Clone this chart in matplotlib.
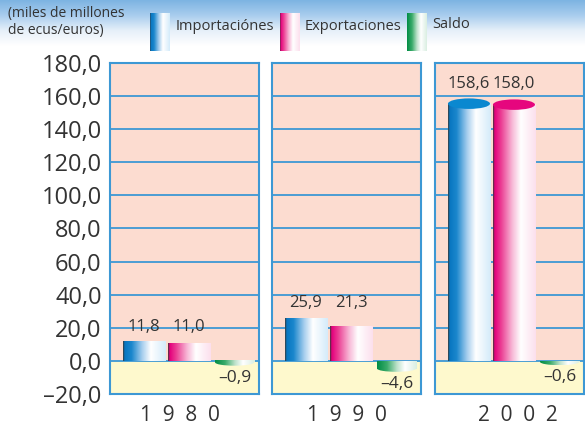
import numpy as np
import matplotlib
matplotlib.use("Agg")
import matplotlib.pyplot as plt
from matplotlib.colors import LinearSegmentedColormap
from matplotlib.patches import Ellipse

plt.rcParams['font.family'] = ['Open Sans', 'DejaVu Sans']

years = ['1980', '1990', '2002']
importaciones = [11.8, 25.9, 158.6]
exportaciones = [11.0, 21.3, 158.0]
saldo = [-0.9, -4.6, -0.6]
series_names = ['Importaciónes', 'Exportaciones', 'Saldo']
y_ticks = [-20, 0, 20, 40, 60, 80, 100, 120, 140, 160, 180]
unit_label = '(miles de millones\nde ecus/euros)'

TEXT = '#333333'
SALMON = '#fcdcd0'
YELLOW = '#fef9cd'
GRID = '#3d98d4'

cmaps = [
    LinearSegmentedColormap.from_list('imp', [(0, '#3a3a3a'), (0.04, '#0876c0'), (0.2, '#1b87cd'),
                                             (0.45, '#a8cfee'), (0.65, '#ffffff'), (1, '#d4ebfa')]),
    LinearSegmentedColormap.from_list('exp', [(0, '#3a3a3a'), (0.04, '#e4007c'), (0.2, '#ec4396'),
                                             (0.45, '#f7b9d7'), (0.65, '#ffffff'), (1, '#fcdfed')]),
    LinearSegmentedColormap.from_list('sal', [(0, '#008c45'), (0.25, '#3aab6a'), (0.5, '#bde2ca'),
                                             (0.7, '#ffffff'), (1, '#d9eee1')]),
]
top_colors = ['#0a88d0', '#e6067e', '#00964b']
grad = np.linspace(0, 1, 256).reshape(1, -1)


def fmt(v):
    return '{:.1f}'.format(v).replace('.', ',').replace('-', '–')


fig = plt.figure(figsize=(5.85, 4.30), dpi=100)

# header band with a soft blue fade and the legend
bg = fig.add_axes([0, 0, 1, 1], zorder=0)
bg.axis('off')
head = np.linspace(0, 1, 100).reshape(-1, 1)
head_cmap = LinearSegmentedColormap.from_list('head', ['#7db4e2', '#a9cdee', '#e6f0f9', '#ffffff'])
bg.imshow(head, cmap=head_cmap, extent=[0, 585, 46, 0], aspect='auto')
bg.text(8, 6, unit_label, fontsize=10, color=TEXT, va='top', ha='left', linespacing=1.15)

legend_x = [150, 280, 407]
label_x = [176, 305, 432]
for i, name in enumerate(series_names):
    bg.imshow(grad, cmap=cmaps[i], extent=[legend_x[i], legend_x[i] + 20, 51, 13], aspect='auto')
    bg.text(label_x[i], 27 if i < 2 else 25, name, fontsize=10.5, color=TEXT, va='center', ha='left')
bg.set_xlim(0, 585)
bg.set_ylim(430, 0)

panel_left = [110, 272, 435]
panel_w = 149
year_dx = [-4.5, 0.5, 8.5]
bar_left = [0.087, 0.389, 0.705]
bar_w = [0.282, 0.282, 0.262]

for p, year in enumerate(years):
    ax = fig.add_axes([panel_left[p] / 585, 36 / 430, panel_w / 585, 331 / 430], zorder=1)
    ax.axhspan(0, 180, color=SALMON, zorder=0)
    ax.axhspan(-20, 0, color=YELLOW, zorder=0)
    for t in y_ticks[1:-1]:
        ax.axhline(t, color=GRID, lw=1.3, zorder=1)

    vals = [importaciones[p], exportaciones[p], saldo[p]]
    group_top = max(vals)
    for i, v in enumerate(vals):
        x0 = bar_left[i]
        x1 = x0 + bar_w[i]
        xc = (x0 + x1) / 2
        if v >= 0:
            eh = 0.04 * v
            ax.imshow(grad, cmap=cmaps[i], extent=[x0, x1, 0, v - eh / 2], aspect='auto', zorder=2)
            if eh > 1.5:
                ax.add_patch(Ellipse((xc, v - eh / 2), x1 - x0, eh,
                                     facecolor=top_colors[i], edgecolor='none', zorder=3))
            ax.text(xc, group_top + 4, fmt(v), fontsize=12, color=TEXT,
                    ha='center', va='bottom', zorder=4)
        else:
            ax.imshow(grad, cmap=cmaps[i], extent=[x0, x1, v, 0], aspect='auto', zorder=2)
            # rounded underside of the cylinder
            cap = Ellipse((xc, v), x1 - x0, 4, facecolor='none', edgecolor='none')
            ax.add_patch(cap)
            im = ax.imshow(grad, cmap=cmaps[i], extent=[x0, x1, v - 2, v], aspect='auto', zorder=2)
            im.set_clip_path(cap)
            ax.text(xc, v - 4.5, fmt(v), fontsize=12.5, color=TEXT,
                    ha='center', va='top', zorder=4)

    ax.set_xlim(0, 1)
    ax.set_ylim(-20, 180)
    ax.set_xticks([])
    for s in ax.spines.values():
        s.set_color(GRID)
        s.set_linewidth(1.5)
    if p == 0:
        ax.set_yticks(y_ticks)
        ax.set_yticklabels([fmt(t) for t in y_ticks], fontsize=17, color=TEXT)
        ax.tick_params(axis='y', length=0, pad=6)
    else:
        ax.set_yticks([])
    ax.text(0.5 + year_dx[p] / panel_w, -0.066, '  '.join(year), transform=ax.transAxes,
            fontsize=15, color=TEXT, ha='center', va='center')

fig.savefig('out.png', dpi=100)
